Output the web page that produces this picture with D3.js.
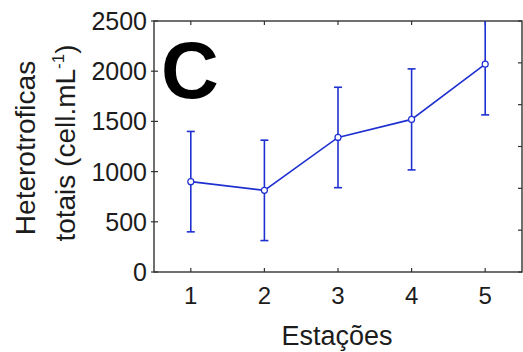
<!DOCTYPE html>
<html>
<head>
<meta charset="utf-8">
<script src="https://cdn.jsdelivr.net/npm/d3@7"></script>
<style>
  html, body { margin: 0; padding: 0; background: #fff; }
  svg { display: block; font-family: "Liberation Sans", Arial, sans-serif; }
</style>
</head>
<body>
<svg id="chart" width="523" height="352"></svg>
<script>
// Heterotrophic cell counts per sampling station (mean ± deviation)
const stations = [1, 2, 3, 4, 5];
const means = [900, 813, 1340, 1520, 2070];
const deviations = [500, 500, 500, 503, 505];
const yTicks = [0, 500, 1000, 1500, 2000, 2500];
const rightTicks = [0, 500, 1000, 1500, 2000, 2500, 3000];

const W = 523, H = 352;
const margin = { left: 154, top: 21, right: 1, bottom: 80 };
const x0 = margin.left, x1 = W - margin.right;
const y0 = H - margin.bottom, y1 = margin.top;

const svg = d3.select("#chart");
const ink = "#1c1c1c";
const blue = "#1f30d0";

const x = d3.scaleLinear().domain([0.5, 5.5]).range([x0, x1]);
const y = d3.scaleLinear().domain([0, 2500]).range([y0, y1]);
const yRight = d3.scaleLinear().domain([0, 3000]).range([y0, y1]);

svg.append("defs").append("clipPath").attr("id", "plot-clip")
  .append("rect").attr("x", x0).attr("y", y1).attr("width", x1 - x0).attr("height", y0 - y1);

// frame
svg.append("rect")
  .attr("x", x0).attr("y", y1).attr("width", x1 - x0).attr("height", y0 - y1)
  .attr("fill", "none").attr("stroke", "#333").attr("stroke-width", 1.4);

const tickG = svg.append("g").attr("stroke", "#333").attr("stroke-width", 1.2);
// left ticks (cross the axis)
yTicks.forEach(v => {
  tickG.append("line").attr("x1", x0 - 3).attr("x2", x0 + 4).attr("y1", y(v)).attr("y2", y(v));
});
// right ticks (inward)
rightTicks.forEach(v => {
  tickG.append("line").attr("x1", x1 - 4).attr("x2", x1).attr("y1", yRight(v)).attr("y2", yRight(v));
});
// top and bottom ticks (inward)
stations.forEach(s => {
  tickG.append("line").attr("x1", x(s)).attr("x2", x(s)).attr("y1", y0).attr("y2", y0 - 4);
  tickG.append("line").attr("x1", x(s)).attr("x2", x(s)).attr("y1", y1).attr("y2", y1 + 4);
});

// y tick labels
svg.append("g").selectAll("text").data(yTicks).join("text")
  .attr("x", x0 - 7).attr("y", d => y(d))
  .attr("dy", "0.36em")
  .attr("text-anchor", "end")
  .attr("font-size", 25).attr("fill", ink)
  .text(d => d);

// x tick labels
svg.append("g").selectAll("text").data(stations).join("text")
  .attr("x", d => x(d)).attr("y", 304)
  .attr("text-anchor", "middle")
  .attr("font-size", 24).attr("fill", ink)
  .text(d => d);

// x axis title
svg.append("text")
  .attr("x", 337).attr("y", 345)
  .attr("text-anchor", "middle")
  .attr("font-size", 27).attr("fill", ink)
  .text("Estações");

// y axis title, two lines
svg.append("text")
  .attr("transform", "translate(35,148) rotate(-90)")
  .attr("text-anchor", "middle")
  .attr("font-size", 28).attr("fill", ink)
  .text("Heterotroficas");

const t2 = svg.append("text")
  .attr("transform", "translate(75,143) rotate(-90)")
  .attr("text-anchor", "middle")
  .attr("font-size", 28).attr("fill", ink);
t2.append("tspan").text("totais (cell.mL");
t2.append("tspan").attr("font-size", 17).attr("dy", -11).text("-1");
t2.append("tspan").attr("dy", 11).text(")");

// panel letter
svg.append("text")
  .attr("x", 161).attr("y", 98)
  .attr("font-size", 80).attr("font-weight", "bold").attr("fill", "#000")
  .text("C");

// series
const plot = svg.append("g").attr("clip-path", "url(#plot-clip)");
const pts = stations.map((s, i) => ({ s, m: means[i], d: deviations[i] }));

const eb = plot.append("g").attr("stroke", blue).attr("stroke-width", 1.6).attr("fill", "none");
pts.forEach(p => {
  eb.append("line").attr("x1", x(p.s)).attr("x2", x(p.s)).attr("y1", y(p.m - p.d)).attr("y2", y(p.m + p.d));
  eb.append("line").attr("x1", x(p.s) - 4).attr("x2", x(p.s) + 4).attr("y1", y(p.m - p.d)).attr("y2", y(p.m - p.d));
  eb.append("line").attr("x1", x(p.s) - 4).attr("x2", x(p.s) + 4).attr("y1", y(p.m + p.d)).attr("y2", y(p.m + p.d));
});

plot.append("path").datum(pts)
  .attr("fill", "none").attr("stroke", blue).attr("stroke-width", 1.6)
  .attr("d", d3.line().x(p => x(p.s)).y(p => y(p.m)));

plot.append("g").selectAll("circle").data(pts).join("circle")
  .attr("cx", p => x(p.s)).attr("cy", p => y(p.m)).attr("r", 3)
  .attr("fill", "#fff").attr("stroke", blue).attr("stroke-width", 1.2);
</script>
</body>
</html>
